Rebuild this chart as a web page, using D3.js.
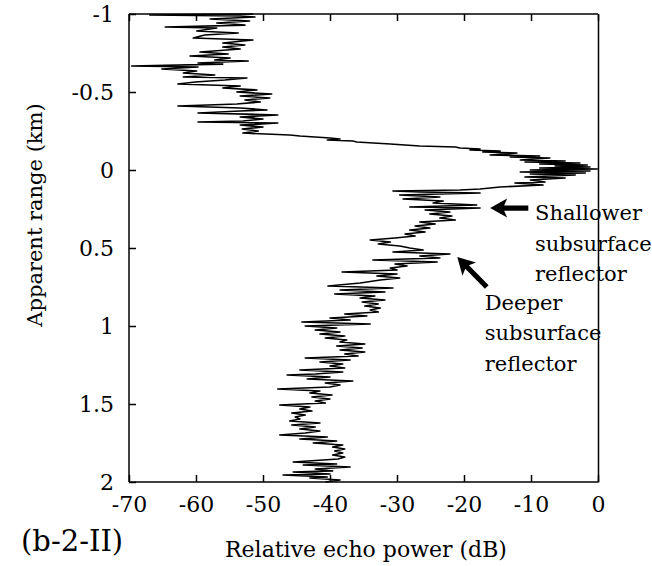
<!DOCTYPE html>
<html lang="en">
	<head>
		<meta charset="utf-8">
		<title>Relative echo power profile</title>
		<script type="text/javascript" src="https://cdn.jsdelivr.net/npm/d3@7"></script>
		<style type="text/css">
			body { margin: 0; background: #fff; }
			.axis path, .axis line {
				stroke: black;
				stroke-width: 1.5px;
			}
		</style>
	</head>
	<body>
		<script type="text/javascript">
			// apparent range (km) and relative echo power (dB)
			var rangeKm = [
				-1.000, -0.994, -0.987, -0.981, -0.968, -0.955, -0.942, -0.929, -0.917, -0.910,
				-0.891, -0.878, -0.865, -0.846, -0.833, -0.814, -0.801, -0.788, -0.776, -0.756,
				-0.744, -0.731, -0.718, -0.705, -0.699, -0.686, -0.679, -0.667, -0.660, -0.647,
				-0.635, -0.622, -0.609, -0.596, -0.590, -0.577, -0.564, -0.551, -0.538, -0.526,
				-0.513, -0.500, -0.487, -0.474, -0.462, -0.449, -0.436, -0.423, -0.410, -0.397,
				-0.385, -0.378, -0.365, -0.353, -0.340, -0.327, -0.314, -0.308, -0.301, -0.288,
				-0.276, -0.263, -0.250, -0.237, -0.224, -0.218, -0.205, -0.199, -0.192, -0.186,
				-0.179, -0.167, -0.154, -0.147, -0.141, -0.135, -0.128, -0.122, -0.115, -0.109,
				-0.096, -0.090, -0.083, -0.077, -0.064, -0.058, -0.051, -0.045, -0.038, -0.032,
				-0.026, -0.019, -0.013, -0.006, 0.000, 0.006, 0.013, 0.019, 0.026, 0.032,
				0.045, 0.051, 0.064, 0.077, 0.083, 0.096, 0.109, 0.122, 0.128, 0.135,
				0.141, 0.147, 0.160, 0.173, 0.186, 0.199, 0.212, 0.224, 0.237, 0.244,
				0.256, 0.269, 0.282, 0.295, 0.308, 0.321, 0.333, 0.346, 0.359, 0.372,
				0.385, 0.397, 0.410, 0.423, 0.436, 0.449, 0.462, 0.474, 0.487, 0.500,
				0.513, 0.526, 0.538, 0.551, 0.564, 0.577, 0.590, 0.603, 0.615, 0.628,
				0.641, 0.654, 0.667, 0.679, 0.692, 0.705, 0.724, 0.744, 0.756, 0.769,
				0.782, 0.795, 0.808, 0.821, 0.833, 0.846, 0.859, 0.872, 0.885, 0.897,
				0.910, 0.923, 0.936, 0.949, 0.962, 0.974, 0.987, 1.000, 1.013, 1.026,
				1.038, 1.051, 1.064, 1.077, 1.090, 1.103, 1.115, 1.128, 1.141, 1.154,
				1.167, 1.179, 1.192, 1.205, 1.218, 1.231, 1.244, 1.256, 1.269, 1.282,
				1.295, 1.308, 1.314, 1.327, 1.340, 1.353, 1.365, 1.378, 1.391, 1.404,
				1.417, 1.429, 1.442, 1.455, 1.468, 1.481, 1.494, 1.506, 1.519, 1.532,
				1.545, 1.558, 1.571, 1.583, 1.596, 1.609, 1.622, 1.635, 1.647, 1.660,
				1.673, 1.686, 1.699, 1.712, 1.724, 1.737, 1.750, 1.763, 1.776, 1.788,
				1.801, 1.814, 1.827, 1.840, 1.853, 1.872, 1.885, 1.891, 1.904, 1.917,
				1.929, 1.936, 1.949, 1.955, 1.968, 1.974, 1.987, 2.000
			];
			var powerDb = [
				-51.5, -66.9, -53.4, -51.2, -57.9, -52.0, -56.9, -52.7, -64.6, -56.9,
				-59.9, -53.7, -58.7, -60.4, -51.5, -56.0, -52.7, -56.0, -53.4, -59.4,
				-55.2, -60.9, -54.9, -57.2, -52.2, -59.7, -56.0, -69.6, -59.7, -65.1,
				-59.9, -61.9, -57.2, -61.9, -52.4, -55.7, -60.1, -62.7, -53.4, -56.0,
				-50.9, -53.9, -48.7, -53.4, -49.0, -52.7, -50.4, -53.9, -62.7, -53.4,
				-49.4, -53.4, -59.7, -47.8, -53.4, -50.0, -53.0, -59.7, -47.8, -53.4,
				-50.0, -53.1, -50.7, -53.0, -46.0, -44.5, -40.0, -38.5, -40.4, -36.6,
				-36.0, -31.0, -26.6, -21.3, -20.6, -17.6, -19.1, -14.6, -17.2, -12.1,
				-16.1, -8.7, -13.1, -7.2, -11.6, -4.9, -10.9, -2.7, -8.7, -1.6,
				-6.4, -1.2, -8.7, -0.1, -10.1, -1.2, -11.6, -1.9, -10.1, -3.4,
				-10.9, -4.9, -10.1, -7.9, -12.4, -8.2, -14.6, -17.6, -20.6, -30.6,
				-26.6, -17.6, -29.6, -23.6, -29.1, -23.1, -24.6, -18.1, -28.1, -17.6,
				-25.8, -22.1, -25.1, -21.8, -23.6, -21.3, -26.6, -24.3, -27.3, -25.1,
				-28.1, -25.8, -28.8, -27.3, -30.3, -34.0, -31.0, -32.8, -29.6, -28.1,
				-26.1, -30.6, -22.1, -26.6, -23.6, -33.6, -24.0, -30.3, -28.5, -31.0,
				-30.0, -38.2, -30.0, -33.0, -29.6, -32.5, -35.5, -40.3, -30.6, -38.5,
				-31.8, -39.3, -33.3, -35.5, -31.8, -35.2, -32.8, -34.8, -32.5, -34.0,
				-32.8, -37.8, -34.5, -40.0, -37.0, -44.2, -34.0, -43.7, -39.0, -42.2,
				-38.5, -41.5, -37.8, -40.7, -37.5, -38.5, -34.8, -39.0, -35.2, -38.5,
				-34.8, -37.8, -35.8, -43.7, -37.0, -41.5, -38.1, -40.0, -37.8, -44.5,
				-38.1, -42.2, -46.4, -40.0, -43.4, -36.6, -40.7, -38.5, -40.0, -47.8,
				-41.5, -43.0, -39.7, -42.7, -40.0, -42.2, -40.7, -47.5, -43.0, -44.5,
				-42.7, -45.7, -43.7, -45.2, -44.5, -46.0, -41.5, -45.7, -42.2, -44.5,
				-41.5, -43.7, -47.5, -40.4, -44.5, -39.0, -42.5, -38.1, -39.6, -37.8,
				-39.3, -38.1, -39.6, -37.8, -38.8, -45.5, -39.0, -44.0, -37.0, -42.2,
				-39.6, -45.5, -40.0, -47.0, -40.4, -43.0, -38.5, -40.7
			];

			var xTicks = [-70, -60, -50, -40, -30, -20, -10, 0];
			var xTickLabels = ["-70", "-60", "-50", "-40", "-30", "-20", "-10", "0"];
			var yTicks = [-1, -0.5, 0, 0.5, 1, 1.5, 2];
			var yTickLabels = ["-1", "-0.5", "0", "0.5", "1", "1.5", "2"];

			// annotations: arrow tip / tail in data units, label lines
			var arrowTipDb = [-16.1, -21.0];
			var arrowTipKm = [0.244, 0.558];
			var arrowTailDb = [-10.4, -16.6];
			var arrowTailKm = [0.244, 0.750];
			var labelDb = [-9.4, -16.9];
			var labelKm = [0.322, 0.895];
			var labelLines = [
				["Shallower", "subsurface", "reflector"],
				["Deeper", "subsurface", "reflector"]
			];

			var w = 652;
			var h = 566;
			var serif = "'DejaVu Serif', serif";

			var xScale = d3.scaleLinear()
				.domain([-70, 0])
				.range([129, 598]);

			var yScale = d3.scaleLinear()
				.domain([-1, 2])
				.range([14, 482]);

			var svg = d3.select("body")
				.append("svg")
				.attr("width", w)
				.attr("height", h)
				.style("font-family", serif);

			var xAxis = d3.axisBottom(xScale)
				.tickValues(xTicks)
				.tickSize(-7)
				.tickPadding(14)
				.tickFormat(function(d, i) { return xTickLabels[i]; });

			var xAxisTop = d3.axisTop(xScale)
				.tickValues(xTicks)
				.tickSize(-7)
				.tickFormat("");

			var yAxis = d3.axisLeft(yScale)
				.tickValues(yTicks)
				.tickSize(-7)
				.tickPadding(15)
				.tickFormat(function(d, i) { return yTickLabels[i]; });

			var yAxisRight = d3.axisRight(yScale)
				.tickValues([])
				.tickSizeOuter(0);

			svg.append("g")
				.attr("class", "x axis")
				.attr("transform", "translate(0," + yScale(2) + ")")
				.call(xAxis)
				.call(function(g) { g.select(".domain").attr("d", "M" + xScale(-70) + ",0H" + xScale(0)); });

			svg.append("g")
				.attr("class", "x axis")
				.attr("transform", "translate(0," + yScale(-1) + ")")
				.call(xAxisTop)
				.call(function(g) { g.select(".domain").attr("d", "M" + xScale(-70) + ",0H" + xScale(0)); });

			svg.append("g")
				.attr("class", "y axis")
				.attr("transform", "translate(" + xScale(-70) + ",0)")
				.call(yAxis)
				.call(function(g) { g.select(".domain").attr("d", "M0," + yScale(-1) + "V" + yScale(2)); });

			svg.append("g")
				.attr("class", "y axis")
				.attr("transform", "translate(" + xScale(0) + ",0)")
				.call(yAxisRight);

			svg.selectAll(".axis").attr("font-family", null).attr("font-size", null);
			svg.selectAll(".axis text").style("font-family", serif).style("font-size", "22px");

			// echo power trace
			var points = rangeKm.map(function(r, i) { return [powerDb[i], r]; });

			var line = d3.line()
				.x(function(d) { return xScale(d[0]); })
				.y(function(d) { return yScale(d[1]); });

			svg.append("path")
				.datum(points)
				.attr("d", line)
				.attr("fill", "none")
				.attr("stroke", "black")
				.attr("stroke-width", 1.6)
				.attr("stroke-linejoin", "round");

			// arrows
			for (var i = 0; i < arrowTipDb.length; i++) {
				var tx = xScale(arrowTipDb[i]), ty = yScale(arrowTipKm[i]);
				var ex = xScale(arrowTailDb[i]), ey = yScale(arrowTailKm[i]);
				var len = Math.sqrt((ex - tx) * (ex - tx) + (ey - ty) * (ey - ty));
				var ang = Math.atan2(ey - ty, ex - tx) * 180 / Math.PI;
				svg.append("path")
					.attr("transform", "translate(" + tx + "," + ty + ") rotate(" + ang + ")")
					.attr("d", "M0,0L17,-9.5L14,-2.6L" + len + ",-2.6L" + len + ",2.6L14,2.6L17,9.5Z")
					.attr("fill", "black");
			}

			// arrow labels
			labelLines.forEach(function(lines, i) {
				var t = svg.append("text")
					.attr("x", xScale(labelDb[i]))
					.attr("y", yScale(labelKm[i]))
					.style("font-size", "21px");
				lines.forEach(function(s, j) {
					t.append("tspan")
						.attr("x", xScale(labelDb[i]))
						.attr("dy", j === 0 ? 0 : 30.5)
						.text(s);
				});
			});

			// axis titles
			svg.append("text")
				.attr("x", 366)
				.attr("y", 557)
				.attr("text-anchor", "middle")
				.style("font-size", "22px")
				.text("Relative echo power (dB)");

			svg.append("text")
				.attr("transform", "translate(42,215) rotate(-90)")
				.attr("text-anchor", "middle")
				.style("font-size", "21px")
				.text("Apparent range (km)");

			svg.append("text")
				.attr("x", 21)
				.attr("y", 551)
				.style("font-size", "29px")
				.text("(b-2-II)");
		</script>
	</body>
</html>
